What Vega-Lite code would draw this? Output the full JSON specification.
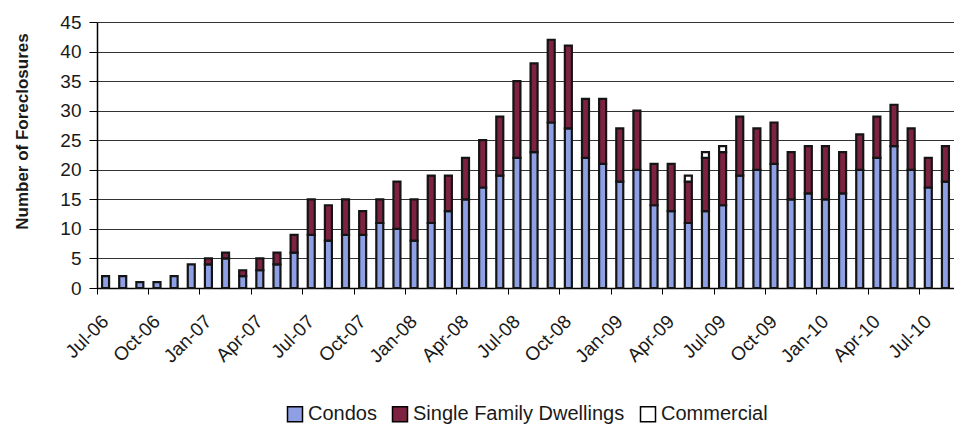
{
  "$schema": "https://vega.github.io/schema/vega-lite/v6.json",
  "width": 857,
  "height": 266,
  "autosize": {"type": "none"},
  "padding": {"left": 97, "top": 22, "right": 0, "bottom": 139},
  "background": "white",
  "config": {"view": {"stroke": null}, "font": "Liberation Sans"},
  "data": {"values": [
    {"month": "Jul-06", "type": "Condos", "count": 2},
    {"month": "Aug-06", "type": "Condos", "count": 2},
    {"month": "Sep-06", "type": "Condos", "count": 1},
    {"month": "Oct-06", "type": "Condos", "count": 1},
    {"month": "Nov-06", "type": "Condos", "count": 2},
    {"month": "Dec-06", "type": "Condos", "count": 4},
    {"month": "Jan-07", "type": "Condos", "count": 4},
    {"month": "Jan-07", "type": "Single Family Dwellings", "count": 1},
    {"month": "Feb-07", "type": "Condos", "count": 5},
    {"month": "Feb-07", "type": "Single Family Dwellings", "count": 1},
    {"month": "Mar-07", "type": "Condos", "count": 2},
    {"month": "Mar-07", "type": "Single Family Dwellings", "count": 1},
    {"month": "Apr-07", "type": "Condos", "count": 3},
    {"month": "Apr-07", "type": "Single Family Dwellings", "count": 2},
    {"month": "May-07", "type": "Condos", "count": 4},
    {"month": "May-07", "type": "Single Family Dwellings", "count": 2},
    {"month": "Jun-07", "type": "Condos", "count": 6},
    {"month": "Jun-07", "type": "Single Family Dwellings", "count": 3},
    {"month": "Jul-07", "type": "Condos", "count": 9},
    {"month": "Jul-07", "type": "Single Family Dwellings", "count": 6},
    {"month": "Aug-07", "type": "Condos", "count": 8},
    {"month": "Aug-07", "type": "Single Family Dwellings", "count": 6},
    {"month": "Sep-07", "type": "Condos", "count": 9},
    {"month": "Sep-07", "type": "Single Family Dwellings", "count": 6},
    {"month": "Oct-07", "type": "Condos", "count": 9},
    {"month": "Oct-07", "type": "Single Family Dwellings", "count": 4},
    {"month": "Nov-07", "type": "Condos", "count": 11},
    {"month": "Nov-07", "type": "Single Family Dwellings", "count": 4},
    {"month": "Dec-07", "type": "Condos", "count": 10},
    {"month": "Dec-07", "type": "Single Family Dwellings", "count": 8},
    {"month": "Jan-08", "type": "Condos", "count": 8},
    {"month": "Jan-08", "type": "Single Family Dwellings", "count": 7},
    {"month": "Feb-08", "type": "Condos", "count": 11},
    {"month": "Feb-08", "type": "Single Family Dwellings", "count": 8},
    {"month": "Mar-08", "type": "Condos", "count": 13},
    {"month": "Mar-08", "type": "Single Family Dwellings", "count": 6},
    {"month": "Apr-08", "type": "Condos", "count": 15},
    {"month": "Apr-08", "type": "Single Family Dwellings", "count": 7},
    {"month": "May-08", "type": "Condos", "count": 17},
    {"month": "May-08", "type": "Single Family Dwellings", "count": 8},
    {"month": "Jun-08", "type": "Condos", "count": 19},
    {"month": "Jun-08", "type": "Single Family Dwellings", "count": 10},
    {"month": "Jul-08", "type": "Condos", "count": 22},
    {"month": "Jul-08", "type": "Single Family Dwellings", "count": 13},
    {"month": "Aug-08", "type": "Condos", "count": 23},
    {"month": "Aug-08", "type": "Single Family Dwellings", "count": 15},
    {"month": "Sep-08", "type": "Condos", "count": 28},
    {"month": "Sep-08", "type": "Single Family Dwellings", "count": 14},
    {"month": "Oct-08", "type": "Condos", "count": 27},
    {"month": "Oct-08", "type": "Single Family Dwellings", "count": 14},
    {"month": "Nov-08", "type": "Condos", "count": 22},
    {"month": "Nov-08", "type": "Single Family Dwellings", "count": 10},
    {"month": "Dec-08", "type": "Condos", "count": 21},
    {"month": "Dec-08", "type": "Single Family Dwellings", "count": 11},
    {"month": "Jan-09", "type": "Condos", "count": 18},
    {"month": "Jan-09", "type": "Single Family Dwellings", "count": 9},
    {"month": "Feb-09", "type": "Condos", "count": 20},
    {"month": "Feb-09", "type": "Single Family Dwellings", "count": 10},
    {"month": "Mar-09", "type": "Condos", "count": 14},
    {"month": "Mar-09", "type": "Single Family Dwellings", "count": 7},
    {"month": "Apr-09", "type": "Condos", "count": 13},
    {"month": "Apr-09", "type": "Single Family Dwellings", "count": 8},
    {"month": "May-09", "type": "Condos", "count": 11},
    {"month": "May-09", "type": "Single Family Dwellings", "count": 7},
    {"month": "May-09", "type": "Commercial", "count": 1},
    {"month": "Jun-09", "type": "Condos", "count": 13},
    {"month": "Jun-09", "type": "Single Family Dwellings", "count": 9},
    {"month": "Jun-09", "type": "Commercial", "count": 1},
    {"month": "Jul-09", "type": "Condos", "count": 14},
    {"month": "Jul-09", "type": "Single Family Dwellings", "count": 9},
    {"month": "Jul-09", "type": "Commercial", "count": 1},
    {"month": "Aug-09", "type": "Condos", "count": 19},
    {"month": "Aug-09", "type": "Single Family Dwellings", "count": 10},
    {"month": "Sep-09", "type": "Condos", "count": 20},
    {"month": "Sep-09", "type": "Single Family Dwellings", "count": 7},
    {"month": "Oct-09", "type": "Condos", "count": 21},
    {"month": "Oct-09", "type": "Single Family Dwellings", "count": 7},
    {"month": "Nov-09", "type": "Condos", "count": 15},
    {"month": "Nov-09", "type": "Single Family Dwellings", "count": 8},
    {"month": "Dec-09", "type": "Condos", "count": 16},
    {"month": "Dec-09", "type": "Single Family Dwellings", "count": 8},
    {"month": "Jan-10", "type": "Condos", "count": 15},
    {"month": "Jan-10", "type": "Single Family Dwellings", "count": 9},
    {"month": "Feb-10", "type": "Condos", "count": 16},
    {"month": "Feb-10", "type": "Single Family Dwellings", "count": 7},
    {"month": "Mar-10", "type": "Condos", "count": 20},
    {"month": "Mar-10", "type": "Single Family Dwellings", "count": 6},
    {"month": "Apr-10", "type": "Condos", "count": 22},
    {"month": "Apr-10", "type": "Single Family Dwellings", "count": 7},
    {"month": "May-10", "type": "Condos", "count": 24},
    {"month": "May-10", "type": "Single Family Dwellings", "count": 7},
    {"month": "Jun-10", "type": "Condos", "count": 20},
    {"month": "Jun-10", "type": "Single Family Dwellings", "count": 7},
    {"month": "Jul-10", "type": "Condos", "count": 17},
    {"month": "Jul-10", "type": "Single Family Dwellings", "count": 5},
    {"month": "Aug-10", "type": "Condos", "count": 18},
    {"month": "Aug-10", "type": "Single Family Dwellings", "count": 6}
  ]},
  "transform": [
    {"calculate": "indexof(['Condos','Single Family Dwellings','Commercial'], datum.type)", "as": "stackOrder"}
  ],
  "mark": {"type": "bar", "size": 7, "stroke": "#141414", "strokeWidth": 2.2},
  "encoding": {
    "x": {
      "field": "month",
      "type": "ordinal",
      "sort": null,
      "scale": {"paddingInner": 0, "paddingOuter": 0},
      "axis": {
        "title": null,
        "values": ["Jul-06","Oct-06","Jan-07","Apr-07","Jul-07","Oct-07","Jan-08","Apr-08","Jul-08","Oct-08","Jan-09","Apr-09","Jul-09","Oct-09","Jan-10","Apr-10","Jul-10"],
        "bandPosition": 0,
        "labelAngle": -45,
        "labelAlign": "right",
        "labelBaseline": "middle",
        "labelFontSize": 19,
        "labelColor": "#1a1a1a",
        "labelPadding": 24,
        "tickSize": 6,
        "tickColor": "black",
        "domainColor": "black",
        "domainWidth": 1.5,
        "grid": false
      }
    },
    "y": {
      "field": "count",
      "type": "quantitative",
      "stack": "zero",
      "scale": {"domain": [0, 45], "nice": false},
      "axis": {
        "title": "Number of Foreclosures",
        "titleFontSize": 17,
        "titleFontWeight": "bold",
        "titleColor": "#1a1a1a",
        "titleX": -66,
        "titleY": 109,
        "titleAngle": -90,
        "titleAlign": "center",
        "titleBaseline": "bottom",
        "values": [0, 5, 10, 15, 20, 25, 30, 35, 40, 45],
        "labelFontSize": 19,
        "labelColor": "#1a1a1a",
        "labelPadding": 8,
        "tickSize": 8,
        "tickColor": "black",
        "domainColor": "black",
        "domainWidth": 1.5,
        "grid": true,
        "gridColor": "#333",
        "gridWidth": 1.2
      }
    },
    "color": {
      "field": "type",
      "type": "nominal",
      "scale": {
        "domain": ["Condos", "Single Family Dwellings", "Commercial"],
        "range": ["#8E9FE4", "#7D2240", "#ffffff"]
      },
      "legend": {
        "title": null,
        "orient": "none",
        "legendX": 188,
        "legendY": 382,
        "direction": "horizontal",
        "symbolType": "square",
        "symbolSize": 225,
        "symbolStrokeColor": "black",
        "symbolStrokeWidth": 1.5,
        "symbolOpacity": 1,
        "labelFontSize": 20,
        "labelColor": "#1a1a1a",
        "labelLimit": 0,
        "labelOffset": 3,
        "columnPadding": 12
      }
    },
    "order": {"field": "stackOrder"}
  }
}
